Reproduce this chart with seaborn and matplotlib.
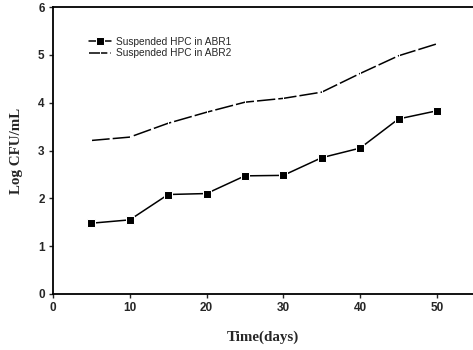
import matplotlib
matplotlib.use("Agg")
import matplotlib.pyplot as plt
import seaborn as sns
import pandas as pd

days = [5, 10, 15, 20, 25, 30, 35, 40, 45, 50]
abr1 = [1.48, 1.55, 2.08, 2.10, 2.47, 2.48, 2.85, 3.05, 3.66, 3.83]
abr2 = [3.21, 3.28, 3.57, 3.80, 4.01, 4.09, 4.22, 4.61, 4.98, 5.23]
label1 = "Suspended HPC in ABR1"
label2 = "Suspended HPC in ABR2"
xticks = [0, 10, 20, 30, 40, 50]
yticks = [0, 1, 2, 3, 4, 5, 6]

sns.set_style("ticks")
plt.rcParams['font.family'] = ['Liberation Sans', 'DejaVu Sans']

df = pd.DataFrame({"day": days * 2, "val": abr1 + abr2,
                   "series": [label1] * len(days) + [label2] * len(days)})

fig = plt.figure(figsize=(4.73, 3.5), dpi=100)
ax = fig.add_axes([0.112, 0.16, 0.888, 0.82])

sns.lineplot(data=df[df.series == label1], x="day", y="val", ax=ax,
             color="black", marker="s", markersize=6, linewidth=1.1,
             label=label1)
sns.lineplot(data=df[df.series == label2], x="day", y="val", ax=ax,
             color="black", marker="|", markersize=4, linewidth=1.1,
             label=label2)
ax.lines[1].set_dashes([12, 2])
ax.lines[1].set_dash_capstyle("butt")

ax.set_xlim(0, 54.7)
ax.set_ylim(0, 6)
ax.set_xticks(xticks)
ax.set_yticks(yticks)
ax.tick_params(axis="both", labelsize=8.5, length=3, width=1, direction="out", pad=3)
for lbl in ax.get_xticklabels() + ax.get_yticklabels():
    lbl.set_fontweight("bold")
ax.spines["right"].set_visible(False)
ax.spines["top"].set_visible(True)
for s in ["left", "bottom", "top"]:
    ax.spines[s].set_linewidth(1.3)
    ax.spines[s].set_color("black")

ax.set_xlabel("Time(days)", fontfamily="Liberation Serif", fontweight="bold",
              fontsize=10.8, labelpad=12)
ax.set_ylabel("Log CFU/mL", fontfamily="Liberation Serif", fontweight="bold",
              fontsize=10.8, labelpad=11)

leg = ax.legend(loc="upper left", bbox_to_anchor=(0.075, 0.91), frameon=False,
                fontsize=7.3, handlelength=2.2, handletextpad=0.5,
                labelspacing=0.15, borderaxespad=0)

fig.savefig("out.png", dpi=100)
